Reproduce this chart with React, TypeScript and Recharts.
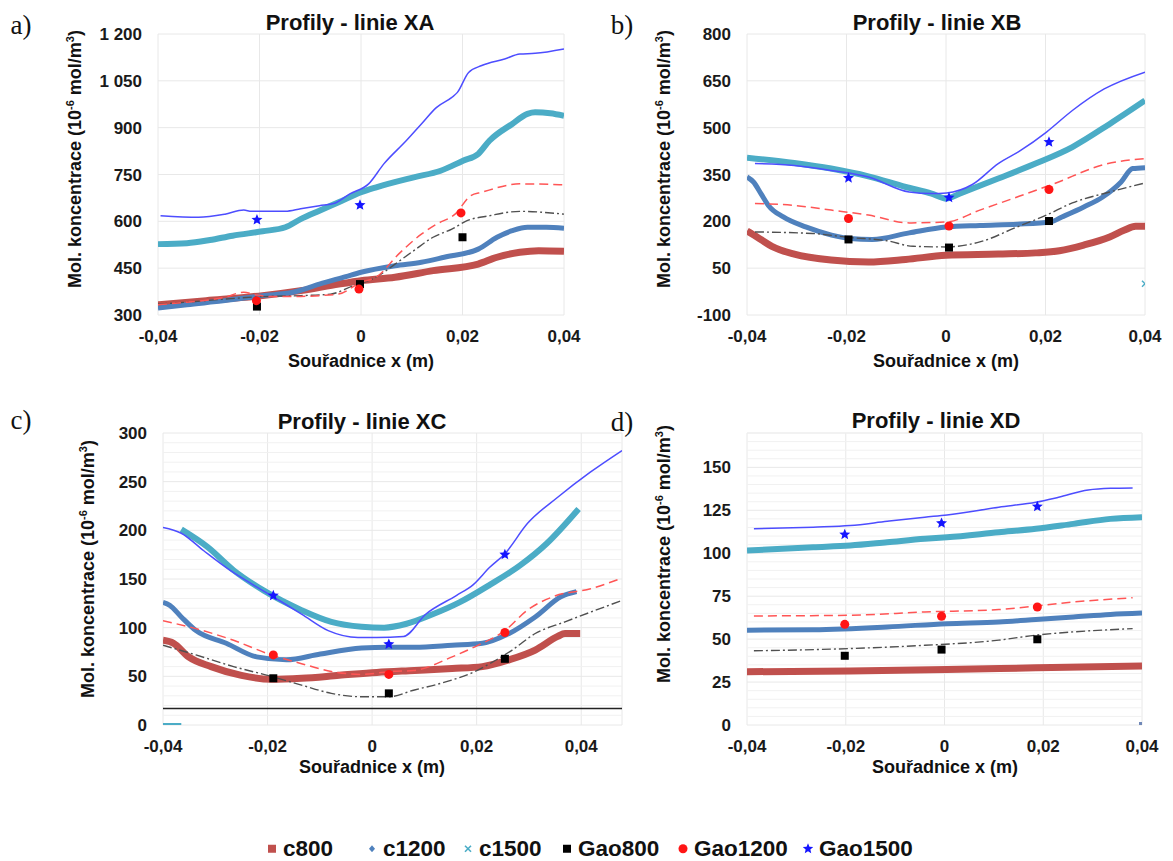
import React from "react";
import {
  ComposedChart,
  Line,
  Scatter,
  XAxis,
  YAxis,
  CartesianGrid,
  ReferenceLine,
} from "recharts";

type Pt = [number, number];

const xTicks = [-0.04, -0.02, 0, 0.02, 0.04];
const legendNames = ["c800", "c1200", "c1500", "Gao800", "Gao1200", "Gao1500"];

// a) Profily - linie XA
const aTicks = [300, 450, 600, 750, 900, 1050, 1200];
const aC800: Pt[] = [[-0.04, 333], [-0.0305, 346], [-0.0194, 362], [-0.0119, 378], [-0.0044, 399], [0, 410], [0.0067, 421], [0.0142, 442], [0.0231, 463], [0.0268, 485], [0.0313, 501], [0.035, 506], [0.04, 504]];
const aC1200: Pt[] = [[-0.04, 322], [-0.0343, 333], [-0.0268, 346], [-0.0194, 362], [-0.0134, 373], [-0.0082, 399], [-0.003, 423], [0, 437], [0.0067, 458], [0.0119, 469], [0.0164, 485], [0.0231, 511], [0.0268, 549], [0.0298, 570], [0.0328, 581], [0.0365, 581], [0.04, 578]];
const aC1500: Pt[] = [[-0.04, 527], [-0.0343, 530], [-0.0298, 540], [-0.0253, 554], [-0.0194, 568], [-0.0149, 581], [-0.0119, 607], [-0.0082, 634], [-0.0044, 661], [0, 693], [0.003, 709], [0.0104, 741], [0.0157, 762], [0.0201, 794], [0.0231, 816], [0.0253, 858], [0.0298, 912], [0.0328, 944], [0.0343, 949], [0.0373, 946], [0.04, 938]];
const aGao800: Pt[] = [[-0.04, 335], [-0.0343, 341], [-0.0268, 351], [-0.0194, 359], [-0.0119, 362], [-0.006, 367], [-0.0015, 394], [0.003, 421], [0.0067, 463], [0.0104, 506], [0.0142, 549], [0.0179, 575], [0.0209, 602], [0.0253, 618], [0.0313, 632], [0.04, 623]];
const aGao1200: Pt[] = [[-0.04, 333], [-0.0343, 341], [-0.0268, 357], [-0.0231, 373], [-0.0208, 365], [-0.0179, 359], [-0.0134, 359], [-0.0082, 362], [-0.0044, 367], [0, 405], [0.003, 421], [0.0074, 495], [0.0119, 559], [0.0149, 591], [0.0186, 624], [0.0216, 682], [0.0238, 693], [0.0313, 720], [0.04, 717]];
const aGao1500: Pt[] = [[-0.0395, 618], [-0.032, 613], [-0.0268, 623], [-0.0231, 636], [-0.0216, 632], [-0.0149, 632], [-0.0119, 640], [-0.0082, 650], [-0.0052, 658], [-0.0022, 688], [0.0015, 720], [0.0045, 784], [0.0089, 858], [0.0119, 912], [0.0149, 965], [0.0179, 997], [0.019, 1013], [0.0212, 1077], [0.0238, 1099], [0.0283, 1120], [0.0313, 1136], [0.0343, 1138], [0.04, 1152]];
const aPts800: Pt[] = [[-0.0205, 327], [-0.0002, 399], [0.02, 549]];
const aPts1200: Pt[] = [[-0.0206, 346], [-0.0004, 383], [0.0197, 627]];
const aPts1500: Pt[] = [[-0.0205, 605], [-0.0002, 652]];

// b) Profily - linie XB
const bTicks = [-100, 50, 200, 350, 500, 650, 800];
const bC800: Pt[] = [[-0.04, 169], [-0.038, 150], [-0.035, 120], [-0.0305, 95], [-0.0231, 76], [-0.0156, 70], [-0.0081, 78], [0, 91], [0.0105, 95], [0.018, 99], [0.0228, 106], [0.0277, 124], [0.0329, 150], [0.0359, 172], [0.0381, 184], [0.04, 184]];
const bC1200: Pt[] = [[-0.04, 342], [-0.0387, 326], [-0.0372, 289], [-0.0357, 251], [-0.0327, 214], [-0.0282, 182], [-0.023, 156], [-0.0193, 145], [-0.0148, 142], [-0.0074, 163], [0, 182], [0.0068, 187], [0.0143, 191], [0.021, 198], [0.0233, 214], [0.0277, 246], [0.0315, 278], [0.0352, 326], [0.0375, 369], [0.04, 372]];
const bC1500: Pt[] = [[-0.04, 404], [-0.0305, 387], [-0.0231, 369], [-0.0156, 344], [-0.0081, 310], [-0.0029, 289], [0.0001, 273], [0.0031, 291], [0.0105, 337], [0.018, 385], [0.0254, 438], [0.0329, 512], [0.04, 587]];
const bGao800: Pt[] = [[-0.0384, 166], [-0.0268, 161], [-0.0193, 148], [-0.0119, 138], [-0.0066, 120], [0, 118], [0.0068, 134], [0.0143, 182], [0.0202, 220], [0.0254, 259], [0.0329, 294], [0.04, 323]];
const bGao1200: Pt[] = [[-0.0384, 257], [-0.0305, 251], [-0.0231, 236], [-0.0156, 220], [-0.0074, 195], [0.0001, 198], [0.0068, 236], [0.0143, 278], [0.0218, 321], [0.0318, 382], [0.04, 401]];
const bGao1500: Pt[] = [[-0.0384, 385], [-0.0305, 379], [-0.0231, 363], [-0.0156, 342], [-0.0074, 294], [-0.0029, 289], [0.0001, 291], [0.0053, 318], [0.0105, 385], [0.015, 427], [0.0202, 486], [0.0254, 555], [0.0318, 624], [0.04, 678]];
const bPts800: Pt[] = [[-0.0196, 142], [0.0006, 116], [0.0207, 201]];
const bPts1200: Pt[] = [[-0.0196, 209], [0.0006, 185], [0.0207, 302]];
const bPts1500: Pt[] = [[-0.0196, 339], [0.0006, 276], [0.0207, 454]];
const bStray1500: Pt[] = [[0.04, 0]];

// c) Profily - linie XC
const cTicks = [0, 50, 100, 150, 200, 250, 300];
const cMinor = [10, 20, 30, 40, 60, 70, 80, 90, 110, 120, 130, 140, 160, 170, 180, 190, 210, 220, 230, 240, 260, 270, 280, 290];
const cC800: Pt[] = [[-0.04, 87], [-0.038, 84], [-0.0351, 70], [-0.0308, 60], [-0.025, 51], [-0.0193, 47], [-0.0135, 48], [-0.0063, 51], [0.0009, 54], [0.0081, 56], [0.0153, 58], [0.0211, 60], [0.0262, 67], [0.0312, 77], [0.0355, 91], [0.0369, 94], [0.0398, 94]];
const cC1200: Pt[] = [[-0.04, 126], [-0.0387, 123], [-0.0365, 111], [-0.0337, 97], [-0.0279, 84], [-0.0221, 70], [-0.0164, 67], [-0.0099, 73], [-0.002, 79], [0.0031, 80], [0.0081, 80], [0.0153, 82], [0.0211, 84], [0.0262, 94], [0.0312, 111], [0.0362, 132], [0.0391, 137]];
const cC1500: Pt[] = [[-0.0365, 201], [-0.0315, 183], [-0.0265, 159], [-0.0207, 138], [-0.0135, 118], [-0.0078, 106], [-0.002, 101], [0.0023, 100], [0.0066, 104], [0.0117, 114], [0.0167, 126], [0.0225, 144], [0.0283, 164], [0.0333, 186], [0.0395, 222]];
const cC1500Stub: Pt[] = [[-0.04, 0], [-0.0365, 0]];
const cGao800: Pt[] = [[-0.04, 82], [-0.0337, 72], [-0.0265, 60], [-0.0193, 50], [-0.0135, 41], [-0.0078, 32.5], [-0.002, 29], [0.0031, 29], [0.0081, 36], [0.0139, 44], [0.0197, 55], [0.0225, 63], [0.0268, 77], [0.0312, 94], [0.0369, 106], [0.0418, 116], [0.0478, 128]];
const cGao1200: Pt[] = [[-0.04, 107], [-0.0337, 99], [-0.0265, 87], [-0.0193, 72], [-0.0135, 63], [-0.0078, 55], [-0.002, 52], [0.0037, 55], [0.008, 56], [0.0153, 70], [0.0203, 82], [0.0254, 97], [0.0297, 118], [0.0347, 132], [0.0418, 140], [0.0478, 151]];
const cGao1500: Pt[] = [[-0.04, 203], [-0.0365, 197], [-0.0322, 179], [-0.0272, 159], [-0.0193, 133], [-0.0135, 114], [-0.0084, 97], [-0.0027, 90], [0.0009, 90], [0.006, 91], [0.0103, 114], [0.0161, 133], [0.0193, 144], [0.0225, 162], [0.0254, 176], [0.0297, 207], [0.0355, 234], [0.0418, 260], [0.0478, 282]];
const cPts800: Pt[] = [[-0.0189, 48], [0.0032, 32.5], [0.0254, 68]];
const cPts1200: Pt[] = [[-0.0189, 72], [0.0032, 52], [0.0254, 95]];
const cPts1500: Pt[] = [[-0.0189, 133], [0.0032, 83], [0.0254, 175]];
const cBaseLine = 17;

// d) Profily - linie XD
const dTicks = [0, 25, 50, 75, 100, 125, 150];
const dMinor = [5, 10, 15, 20, 30, 35, 40, 45, 55, 60, 65, 70, 80, 85, 90, 95, 105, 110, 115, 120, 130, 135, 140, 145, 155, 160, 165, 170];
const dC800: Pt[] = [[-0.04, 31], [-0.0191, 31.5], [0.0005, 32.3], [0.0185, 33.3], [0.04, 34.4]];
const dC1200: Pt[] = [[-0.04, 55.2], [-0.0266, 55.5], [-0.0116, 57.1], [0.0005, 59], [0.011, 60], [0.0185, 61.4], [0.0261, 62.9], [0.0336, 64.4], [0.04, 65.2]];
const dC1500: Pt[] = [[-0.04, 101.6], [-0.0266, 103.5], [-0.0191, 104.5], [-0.0116, 106.4], [-0.004, 108.4], [0.0005, 109.3], [0.011, 112.2], [0.0185, 114.2], [0.0261, 117.1], [0.0336, 120], [0.04, 121]];
const dGao800: Pt[] = [[-0.0386, 43.2], [-0.0191, 44.5], [-0.004, 46.4], [0.011, 49.4], [0.0185, 52.3], [0.0261, 54.2], [0.0381, 56.1]];
const dGao1200: Pt[] = [[-0.0386, 63.5], [-0.0191, 63.9], [-0.004, 65.8], [0.011, 67.2], [0.0261, 71.6], [0.0381, 74.1]];
const dGao1500: Pt[] = [[-0.0386, 114.2], [-0.0266, 115.2], [-0.0191, 116.1], [-0.0116, 118.6], [-0.004, 121], [0.0005, 122.3], [0.011, 126.8], [0.0185, 129.7], [0.0231, 132.6], [0.0291, 136.8], [0.0336, 137.8], [0.0381, 138]];
const dPts800: Pt[] = [[-0.0202, 40.3], [-0.0006, 43.9], [0.0188, 49.9]];
const dPts1200: Pt[] = [[-0.0202, 58.6], [-0.0006, 63.3], [0.0188, 68.7]];
const dPts1500: Pt[] = [[-0.0202, 110.9], [-0.0006, 117.5], [0.0188, 127.2]];
const dStray: Pt[] = [[0.04, 0]];

const FONT = "'Liberation Sans', Arial, Helvetica, sans-serif";
const COL = {
  c800: "#C0504D",
  c1200: "#4F81BD",
  c1500: "#4BACC6",
  gao800: "#505050",
  gao1200: "#FF5555",
  gao1500: "#4D4DFF",
};

const xy = (p: Pt[]) => p.map(([x, y]) => ({ x, y }));
const fmtX = (v: number) => (v === 0 ? "0" : v.toFixed(2).replace(".", ","));
const fmtY = (v: number) =>
  v >= 1000 ? `${Math.floor(v / 1000)} ${String(v % 1000).padStart(3, "0")}` : String(v);

const starPoints = (cx: number, cy: number, R: number) => {
  const out: string[] = [];
  for (let i = 0; i < 10; i++) {
    const r = i % 2 ? R * 0.45 : R;
    const a = -Math.PI / 2 + (i * Math.PI) / 5;
    out.push(`${cx + r * Math.cos(a)},${cy + r * Math.sin(a)}`);
  }
  return out.join(" ");
};

const SquareMark = (p: any) => <rect x={p.cx - 4} y={p.cy - 4} width={8} height={8} fill="#000" />;
const CircleMark = (p: any) => <circle cx={p.cx} cy={p.cy} r={4.5} fill="#FF1515" />;
const StarMark = (p: any) => <polygon points={starPoints(p.cx, p.cy, 5.8)} fill="#1515FF" />;
const CrossMark = (p: any) => (
  <g stroke={COL.c1500} strokeWidth={1.5}>
    <line x1={p.cx - 3} y1={p.cy - 3} x2={p.cx + 3} y2={p.cy + 3} />
    <line x1={p.cx - 3} y1={p.cy + 3} x2={p.cx + 3} y2={p.cy - 3} />
  </g>
);
const StraySquare = (p: any) => <rect x={p.cx - 3} y={p.cy - 3} width={6} height={6} fill="#7088B8" />;

type PanelProps = {
  plot: { x: number; y: number; w: number; h: number };
  xDomain: [number, number];
  yDomain: [number, number];
  yTicks: number[];
  minor?: number[];
  c800: Pt[];
  c1200: Pt[];
  c1500: Pt[];
  gao800: Pt[];
  gao1200: Pt[];
  gao1500: Pt[];
  p800: Pt[];
  p1200: Pt[];
  p1500: Pt[];
  stub?: Pt[];
  crossPts?: Pt[];
  strayPts?: Pt[];
  baseLine?: number;
};

const tickStyle = { fontSize: 17, fontWeight: 700, fill: "#1a1a1a", fontFamily: FONT };

const Panel = (p: PanelProps) => {
  const yw = 70;
  const mr = 30;
  const W = p.plot.w + yw + mr;
  const H = p.plot.h + 10 + 40;
  return (
    <div style={{ position: "absolute", left: p.plot.x - yw, top: p.plot.y - 10 }}>
      <ComposedChart width={W} height={H} margin={{ top: 10, right: mr, left: 0, bottom: 0 }}>
        <CartesianGrid stroke="#e8e8e8" strokeWidth={1} />
        {(p.minor || []).map((v) => (
          <ReferenceLine key={"m" + v} y={v} stroke="#f1f1f1" strokeWidth={1} />
        ))}
        <XAxis
          type="number"
          dataKey="x"
          domain={p.xDomain}
          ticks={xTicks}
          interval={0}
          allowDataOverflow
          tickFormatter={fmtX}
          tick={tickStyle}
          tickLine={false}
          axisLine={false}
          tickSize={0}
          tickMargin={15}
          height={40}
        />
        <YAxis
          type="number"
          dataKey="y"
          domain={p.yDomain}
          ticks={p.yTicks}
          interval={0}
          allowDataOverflow
          tickFormatter={fmtY}
          tick={tickStyle}
          tickLine={false}
          axisLine={false}
          tickSize={0}
          tickMargin={16}
          width={yw}
        />
        {p.baseLine !== undefined && (
          <ReferenceLine y={p.baseLine} stroke="#222" strokeWidth={1.5} />
        )}
        <Line data={xy(p.c800)} dataKey="y" type="monotone" stroke={COL.c800} strokeWidth={7} dot={false} isAnimationActive={false} />
        <Line data={xy(p.c1200)} dataKey="y" type="monotone" stroke={COL.c1200} strokeWidth={5} dot={false} isAnimationActive={false} />
        <Line data={xy(p.c1500)} dataKey="y" type="monotone" stroke={COL.c1500} strokeWidth={6} dot={false} isAnimationActive={false} />
        {p.stub && (
          <Line data={xy(p.stub)} dataKey="y" type="linear" stroke={COL.c1500} strokeWidth={4} dot={false} isAnimationActive={false} />
        )}
        <Line data={xy(p.gao800)} dataKey="y" type="monotone" stroke={COL.gao800} strokeWidth={1.4} strokeDasharray="9 3 2 3" dot={false} isAnimationActive={false} />
        <Line data={xy(p.gao1200)} dataKey="y" type="monotone" stroke={COL.gao1200} strokeWidth={1.5} strokeDasharray="9 5" dot={false} isAnimationActive={false} />
        <Line data={xy(p.gao1500)} dataKey="y" type="monotone" stroke={COL.gao1500} strokeWidth={1.5} dot={false} isAnimationActive={false} />
        <Scatter data={xy(p.p800)} dataKey="y" shape={SquareMark} isAnimationActive={false} />
        <Scatter data={xy(p.p1200)} dataKey="y" shape={CircleMark} isAnimationActive={false} />
        <Scatter data={xy(p.p1500)} dataKey="y" shape={StarMark} isAnimationActive={false} />
        {p.crossPts && <Scatter data={xy(p.crossPts)} dataKey="y" shape={CrossMark} isAnimationActive={false} />}
        {p.strayPts && <Scatter data={xy(p.strayPts)} dataKey="y" shape={StraySquare} isAnimationActive={false} />}
      </ComposedChart>
    </div>
  );
};

const Abs = ({ x, y, style, children }: { x: number; y: number; style?: React.CSSProperties; children: React.ReactNode }) => (
  <div
    style={{
      position: "absolute",
      left: x,
      top: y,
      transform: "translate(-50%, -50%)",
      whiteSpace: "nowrap",
      lineHeight: 1,
      ...style,
    }}
  >
    {children}
  </div>
);

const titleStyle: React.CSSProperties = { fontFamily: FONT, fontWeight: 700, fontSize: 22, color: "#111" };
const axisTitleStyle: React.CSSProperties = { fontFamily: FONT, fontWeight: 700, fontSize: 18, color: "#111" };
const letterStyle: React.CSSProperties = { fontFamily: "'Liberation Serif', 'Times New Roman', serif", fontSize: 27, color: "#111" };

const YLabel = ({ x, y }: { x: number; y: number }) => (
  <div
    style={{
      position: "absolute",
      left: x,
      top: y,
      transform: "translate(-50%, -50%) rotate(-90deg)",
      whiteSpace: "nowrap",
      lineHeight: 1,
      ...axisTitleStyle,
    }}
  >
    Mol. koncentrace (10<sup style={{ fontSize: 11 }}>-6</sup> mol/m<sup style={{ fontSize: 11 }}>3</sup>)
  </div>
);

const LegendMark = ({ i }: { i: number }) => {
  const s = 14;
  const c = s / 2;
  let el: React.ReactNode = null;
  if (i === 0) el = <rect x={c - 4} y={c - 4} width={8} height={8} fill={COL.c800} />;
  if (i === 1) el = <polygon points={`${c},${c - 3.5} ${c + 3},${c} ${c},${c + 3.5} ${c - 3},${c}`} fill={COL.c1200} />;
  if (i === 2)
    el = (
      <g stroke={COL.c1500} strokeWidth={1.6}>
        <line x1={c - 3} y1={c - 3} x2={c + 3} y2={c + 3} />
        <line x1={c - 3} y1={c + 3} x2={c + 3} y2={c - 3} />
      </g>
    );
  if (i === 3) el = <rect x={c - 4} y={c - 4} width={8} height={8} fill="#000" />;
  if (i === 4) el = <circle cx={c} cy={c} r={4.5} fill="#FF1515" />;
  if (i === 5) el = <polygon points={starPoints(c, c, 5.5)} fill="#1515FF" />;
  return (
    <svg width={s} height={s} style={{ marginRight: 4 }}>
      {el}
    </svg>
  );
};

const legendX = [265, 365, 461, 560, 676, 801];

export default function App() {
  return (
    <div style={{ position: "absolute", left: 0, top: 0, width: 1173, height: 861, background: "#fff", overflow: "hidden" }}>
      <Panel
        plot={{ x: 158, y: 34, w: 406, h: 281 }}
        xDomain={[-0.04, 0.04]}
        yDomain={[300, 1200]}
        yTicks={aTicks}
        c800={aC800}
        c1200={aC1200}
        c1500={aC1500}
        gao800={aGao800}
        gao1200={aGao1200}
        gao1500={aGao1500}
        p800={aPts800}
        p1200={aPts1200}
        p1500={aPts1500}
      />
      <Panel
        plot={{ x: 747, y: 34, w: 398, h: 281 }}
        xDomain={[-0.04, 0.04]}
        yDomain={[-100, 800]}
        yTicks={bTicks}
        c800={bC800}
        c1200={bC1200}
        c1500={bC1500}
        gao800={bGao800}
        gao1200={bGao1200}
        gao1500={bGao1500}
        p800={bPts800}
        p1200={bPts1200}
        p1500={bPts1500}
        crossPts={bStray1500}
      />
      <Panel
        plot={{ x: 163, y: 433, w: 459, h: 292 }}
        xDomain={[-0.04, 0.0478]}
        yDomain={[0, 300]}
        yTicks={cTicks}
        minor={cMinor}
        c800={cC800}
        c1200={cC1200}
        c1500={cC1500}
        gao800={cGao800}
        gao1200={cGao1200}
        gao1500={cGao1500}
        p800={cPts800}
        p1200={cPts1200}
        p1500={cPts1500}
        stub={cC1500Stub}
        baseLine={cBaseLine}
      />
      <Panel
        plot={{ x: 747, y: 433, w: 395, h: 292 }}
        xDomain={[-0.04, 0.04]}
        yDomain={[0, 170]}
        yTicks={dTicks}
        minor={dMinor}
        c800={dC800}
        c1200={dC1200}
        c1500={dC1500}
        gao800={dGao800}
        gao1200={dGao1200}
        gao1500={dGao1500}
        p800={dPts800}
        p1200={dPts1200}
        p1500={dPts1500}
        strayPts={dStray}
      />

      <Abs x={21} y={25} style={letterStyle}>a)</Abs>
      <Abs x={622} y={25} style={letterStyle}>b)</Abs>
      <Abs x={21} y={420} style={letterStyle}>c)</Abs>
      <Abs x={622} y={422} style={letterStyle}>d)</Abs>

      <Abs x={350} y={23} style={titleStyle}>Profily - linie XA</Abs>
      <Abs x={937} y={23} style={titleStyle}>Profily - linie XB</Abs>
      <Abs x={362} y={422} style={titleStyle}>Profily - linie XC</Abs>
      <Abs x={936} y={421} style={titleStyle}>Profily - linie XD</Abs>

      <Abs x={361} y={361} style={axisTitleStyle}>Souřadnice x (m)</Abs>
      <Abs x={946} y={361} style={axisTitleStyle}>Souřadnice x (m)</Abs>
      <Abs x={372} y={767} style={axisTitleStyle}>Souřadnice x (m)</Abs>
      <Abs x={945} y={767} style={axisTitleStyle}>Souřadnice x (m)</Abs>

      <YLabel x={74} y={159} />
      <YLabel x={663} y={159} />
      <YLabel x={87} y={569} />
      <YLabel x={663} y={554} />

      {legendNames.map((n, i) => (
        <div
          key={n}
          style={{
            position: "absolute",
            left: legendX[i],
            top: 849,
            transform: "translateY(-50%)",
            display: "flex",
            alignItems: "center",
            fontFamily: FONT,
            fontWeight: 700,
            fontSize: 22.5,
            lineHeight: 1,
            color: "#111",
            whiteSpace: "nowrap",
          }}
        >
          <LegendMark i={i} />
          {n}
        </div>
      ))}
    </div>
  );
}
